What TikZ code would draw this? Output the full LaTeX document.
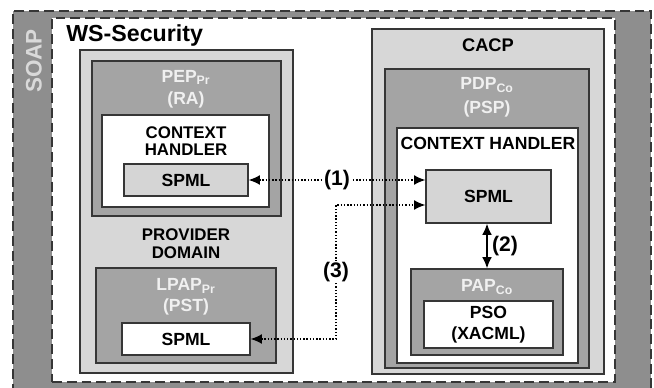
\documentclass[tikz,border=0pt]{standalone}
\usepackage{fontspec}
\setmainfont{Liberation Sans}
\usetikzlibrary{arrows.meta, positioning, fit}

\definecolor{soapgray}{HTML}{8E8E8E}
\definecolor{soaptext}{HTML}{D9D9D9}
\definecolor{boxlight}{HTML}{D7D7D7}
\definecolor{boxmid}{HTML}{A4A4A4}
\definecolor{spmlgray}{HTML}{D5D5D5}
\definecolor{edgegray}{HTML}{363636}
\definecolor{titlewhite}{HTML}{F0F0F0}

\begin{document}
\begin{tikzpicture}[
  x=0.025cm, y=-0.025cm,
  font=\fontsize{12.5}{15}\selectfont\bfseries,
  frame/.style={draw=edgegray, line width=1.3pt, dash pattern=on 7pt off 3.5pt, inner sep=0pt},
  box/.style={draw=edgegray, line width=0.9pt, inner sep=0pt},
  lightbox/.style={box, fill=boxlight},
  midbox/.style={box, fill=boxmid},
  whitebox/.style={box, fill=white},
  spmlbox/.style={box, fill=spmlgray},
  ttl/.style={text=titlewhite, align=center, inner sep=0pt},
  lbl/.style={align=center, inner sep=0pt},
  num/.style={fill=white, inner sep=1pt, font=\fontsize{15}{15}\selectfont\bfseries},
  msg/.style={line width=1pt, dash pattern=on 1pt off 1.3pt, {Latex[length=8pt,width=7pt]}-{Latex[length=8pt,width=7pt]}},
  twoway/.style={line width=1.2pt, {Latex[length=8pt,width=7pt]}-{Latex[length=8pt,width=7pt]}}
]
\useasboundingbox (0,0) rectangle (654,388);
\clip (0,0) rectangle (654,388);

%% SOAP envelope and WS-Security area
\node[frame, fill=soapgray, fit={(13,11) (651,400)}] (soap) {};
\node[frame, fill=white, fit={(52,18) (615,382)}] (wss) {};
\node[rotate=90, text=soaptext, inner sep=0pt,
      font=\fontsize{16}{16}\selectfont\bfseries] (soaplbl) at (34,61) {SOAP};
\node[anchor=base west, inner sep=0pt,
      font=\fontsize{16.5}{18}\selectfont\bfseries] (wsslbl) at (66,42) {WS-Security};

%% Provider domain (left)
\node[lightbox, fit={(80,50) (293,373)}] (prov) {};
\node[midbox, fit={(92,61) (281,216)}] (pep) {};
\node[ttl, font=\fontsize{12.5}{15.5}\selectfont\bfseries] (peplbl) at (186,89) {PEP\textsubscript{Pr}\\(RA)};
\node[whitebox, fit={(102,115) (269,207)}] (ctxL) {};
\node[lbl, font=\fontsize{12}{12.5}\selectfont\bfseries] (ctxLlbl) at (186,141) {CONTEXT\\HANDLER};
\node[spmlbox, fit={(124,164) (248,196)}] (spmlL) {};
\node[lbl] (spmlLlbl) at (spmlL.center) {SPML};
\node[lbl, font=\fontsize{12}{13}\selectfont\bfseries] (provlbl) at (186,244) {PROVIDER\\DOMAIN};
\node[midbox, fit={(96,268) (276,363)}] (lpap) {};
\node[ttl, font=\fontsize{12.5}{15}\selectfont\bfseries] (lpaplbl) at (186,297) {LPAP\textsubscript{Pr}\\(PST)};
\node[whitebox, fit={(122,323) (250,355)}] (spmlB) {};
\node[lbl] (spmlBlbl) at (spmlB.center) {SPML};

%% CACP (right)
\node[lightbox, fit={(372,29) (604,374)}] (cacp) {};
\node[lbl, font=\fontsize{13}{15}\selectfont\bfseries] (cacplbl) at (488,45) {CACP};
\node[midbox, fit={(385,69) (589,368)}] (pdp) {};
\node[ttl, font=\fontsize{12.5}{17}\selectfont\bfseries] (pdplbl) at (487,97) {PDP\textsubscript{Co}\\(PSP)};
\node[whitebox, fit={(397,128) (578,363)}] (ctxR) {};
\node[lbl] (ctxRlbl) at (488,143) {CONTEXT HANDLER};
\node[spmlbox, fit={(426,170) (551,223)}] (spmlR) {};
\node[lbl] (spmlRlbl) at (spmlR.center) {SPML};
\node[midbox, fit={(411,269) (563,355)}] (pap) {};
\node[ttl] (paplbl) at (487,287) {PAP\textsubscript{Co}};
\node[whitebox, fit={(424,301) (553,348)}] (pso) {};
\node[lbl, font=\fontsize{12.5}{15}\selectfont\bfseries] (psolbl) at (pso.center) {PSO\\(XACML)};

%% Message flows
\coordinate (via3) at (336,205);
\draw[msg] (spmlL.east) -- (spmlL.east -| spmlR.west) node[num, midway] {(1)};
\draw[twoway] (spmlR.south -| pap.north) -- (pap.north) node[midway, right=3pt, inner sep=0pt,
      font=\fontsize{15}{15}\selectfont\bfseries] {(2)};
\draw[msg] (spmlB.east) -| (via3) node[num, pos=0.75] {(3)} -- (via3 -| spmlR.west);
\end{tikzpicture}
\end{document}
